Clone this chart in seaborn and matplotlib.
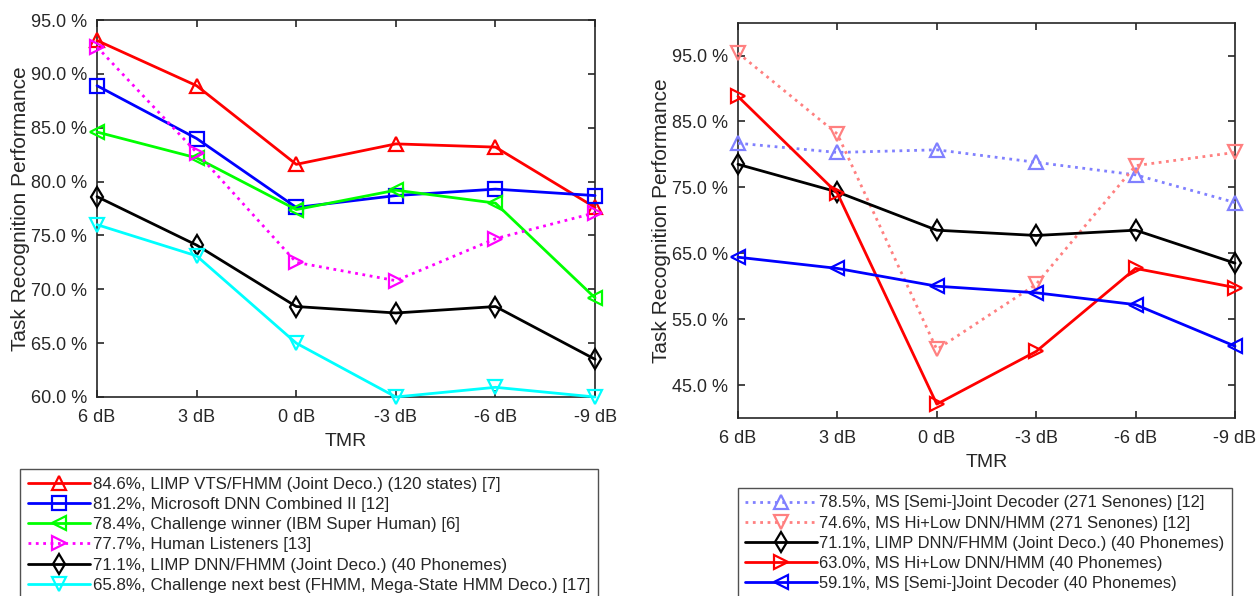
import numpy as np
import pandas as pd
import matplotlib
matplotlib.use("Agg")
import matplotlib.pyplot as plt
import seaborn as sns
from matplotlib.ticker import FuncFormatter

# -------------------------------
# Data
# -------------------------------
tmr_labels = ["6 dB", "3 dB", "0 dB", "-3 dB", "-6 dB", "-9 dB"]

# left panel
limp_vts = [93.1, 88.9, 81.6, 83.5, 83.2, 77.6]
ms_dnn_combined = [88.9, 84.0, 77.6, 78.7, 79.3, 78.7]
ibm_winner = [84.6, 82.2, 77.4, 79.2, 78.0, 69.2]
human = [92.5, 82.7, 72.5, 70.8, 74.7, 77.1]
limp_dnn = [78.6, 74.1, 68.4, 67.8, 68.4, 63.5]
next_best = [76.0, 73.1, 65.0, 60.0, 60.9, 60.0]

# right panel
ms_joint_senones = [81.7, 80.3, 80.7, 78.8, 76.9, 72.7]
ms_hilow_senones = [95.4, 83.1, 50.4, 60.3, 78.3, 80.3]
limp_dnn_r = [78.5, 74.3, 68.5, 67.7, 68.5, 63.5]
ms_hilow_phon = [88.8, 74.1, 42.1, 50.1, 62.7, 59.8]
ms_joint_phon = [64.4, 62.7, 60.0, 59.0, 57.2, 50.9]

left_series = [
    ("84.6%, LIMP VTS/FHMM (Joint Deco.) (120 states) [7]", limp_vts, "#ff0000", "^", "-"),
    ("81.2%, Microsoft DNN Combined II [12]", ms_dnn_combined, "#0000ff", "s", "-"),
    ("78.4%, Challenge winner (IBM Super Human) [6]", ibm_winner, "#00ff00", "<", "-"),
    ("77.7%, Human Listeners [13]", human, "#ff00ff", ">", ":"),
    ("71.1%, LIMP DNN/FHMM (Joint Deco.) (40 Phonemes)", limp_dnn, "#000000", "d", "-"),
    ("65.8%, Challenge next best (FHMM, Mega-State HMM Deco.) [17]", next_best, "#00ffff", "v", "-"),
]

right_series = [
    ("78.5%, MS [Semi-]Joint Decoder (271 Senones) [12]", ms_joint_senones, "#8080ff", "^", ":"),
    ("74.6%, MS Hi+Low DNN/HMM (271 Senones) [12]", ms_hilow_senones, "#ff8080", "v", ":"),
    ("71.1%, LIMP DNN/FHMM (Joint Deco.) (40 Phonemes)", limp_dnn_r, "#000000", "d", "-"),
    ("63.0%, MS Hi+Low DNN/HMM (40 Phonemes)", ms_hilow_phon, "#ff0000", ">", "-"),
    ("59.1%, MS [Semi-]Joint Decoder (40 Phonemes)", ms_joint_phon, "#0000ff", "<", "-"),
]

# -------------------------------
# Style
# -------------------------------
sns.set_style("ticks")
plt.rcParams["font.family"] = ["Liberation Sans", "DejaVu Sans"]
plt.rcParams["axes.edgecolor"] = "#262626"
plt.rcParams["axes.linewidth"] = 1.2
plt.rcParams["xtick.direction"] = "in"
plt.rcParams["ytick.direction"] = "in"
plt.rcParams["xtick.color"] = "#262626"
plt.rcParams["ytick.color"] = "#262626"
plt.rcParams["text.color"] = "#262626"

fig = plt.figure(figsize=(12.57, 5.96), dpi=100)
ax1 = fig.add_axes([0.0772, 0.3339, 0.3962, 0.6325])
ax2 = fig.add_axes([0.5871, 0.2987, 0.3954, 0.6633])

pct = FuncFormatter(lambda v, p: f"{v:.1f} %")


def draw(ax, series):
    handles = []
    for label, vals, color, marker, ls in series:
        df = pd.DataFrame({"x": np.arange(len(tmr_labels)), "y": vals})
        sns.lineplot(data=df, x="x", y="y", ax=ax, color=color, linestyle=ls,
                     linewidth=2.0, marker=marker, markersize=10,
                     markerfacecolor="none", markeredgecolor=color,
                     markeredgewidth=1.6, clip_on=False, label=label,
                     legend=False, zorder=3)
        handles.append(ax.lines[-1])
    ax.set_xlim(0, len(tmr_labels) - 1)
    ax.set_xticks(np.arange(len(tmr_labels)))
    ax.set_xticklabels(tmr_labels)
    ax.yaxis.set_major_formatter(pct)
    ax.tick_params(axis="both", labelsize=13, length=5, width=1.2,
                   top=True, right=True)
    ax.tick_params(axis="x", pad=9)
    ax.tick_params(axis="y", pad=7)
    ax.set_xlabel("TMR", fontsize=14, labelpad=5)
    ax.set_ylabel("Task Recognition Performance", fontsize=15, labelpad=1)
    for s in ax.spines.values():
        s.set_visible(True)
    return handles


h1 = draw(ax1, left_series)
ax1.set_ylim(60, 95)
ax1.set_yticks(np.arange(60, 96, 5))

h2 = draw(ax2, right_series)
ax2.set_ylim(40, 100)
ax2.set_yticks(np.arange(45, 96, 10))

leg_kw = dict(frameon=True, fancybox=False,
              handletextpad=0.15, labelspacing=0.31, borderpad=0.45,
              borderaxespad=0)
l1 = fig.legend(handles=h1, labels=[s[0] for s in left_series],
                loc="upper left", bbox_to_anchor=(20 / 1257, 1 - 469 / 596),
                handlelength=3.7, fontsize=12.2, **leg_kw)
l2 = fig.legend(handles=h2, labels=[s[0] for s in right_series],
                loc="upper left", bbox_to_anchor=(738 / 1257, 1 - 488 / 596),
                handlelength=4.3, fontsize=11.9, **leg_kw)
for leg in (l1, l2):
    leg.get_frame().set_edgecolor("#262626")
    leg.get_frame().set_linewidth(1.0)

fig.savefig("out.png", dpi=100)
